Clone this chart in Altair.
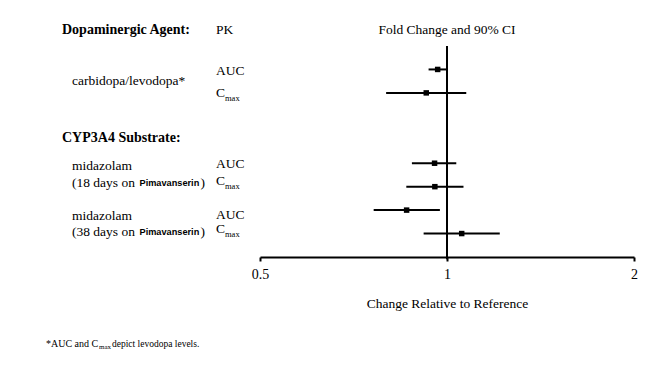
import altair as alt
import pandas as pd

# ---------------- data ----------------
pk_rows = ["carbidopa/levodopa AUC", "carbidopa/levodopa Cmax",
           "midazolam 18d AUC", "midazolam 18d Cmax",
           "midazolam 38d AUC", "midazolam 38d Cmax"]
fold = [0.966, 0.926, 0.955, 0.956, 0.861, 1.056]
ci_low = [0.934, 0.798, 0.878, 0.860, 0.762, 0.917]
ci_high = [1.000, 1.074, 1.035, 1.063, 0.974, 1.216]
row_pos = [1, 2, 5, 6, 7, 8]

x_ticks = [0.5, 1, 2]
ref_value = [1]

SERIF = "Liberation Serif"
SANS = "Liberation Sans"

xscale = alt.Scale(type="log", base=2, domain=[0.5, 2], nice=False)
yscale = alt.Scale(domain=[0, 9], reverse=True, nice=False, zero=False)
xaxis = alt.Axis(values=x_ticks, format="~g", title="Change Relative to Reference",
                 grid=False, domainColor="black", domainWidth=2, tickColor="black",
                 tickWidth=2, tickSize=4, labelFont=SERIF, labelFontSize=14,
                 labelColor="black", labelPadding=6, labelFlush=False,
                 titleFont=SERIF, titleFontSize=13.5,
                 titleFontWeight="normal", titleColor="black", titlePadding=15)

df = pd.DataFrame({"row": pk_rows, "fold": fold, "low": ci_low, "high": ci_high, "pos": row_pos})
ref = pd.DataFrame({"fold": ref_value, "top": [0.0], "bottom": [9.1]})

ci = alt.Chart(df).mark_rule(color="black", strokeWidth=2).encode(
    x=alt.X("low:Q", scale=xscale, axis=xaxis),
    x2="high:Q",
    y=alt.Y("pos:Q", scale=yscale, axis=None),
)
pts = alt.Chart(df).mark_square(color="black", size=30, opacity=1).encode(
    x=alt.X("fold:Q", scale=xscale, axis=xaxis),
    y=alt.Y("pos:Q", scale=yscale, axis=None),
)
refline = alt.Chart(ref).mark_rule(color="black", strokeWidth=2).encode(
    x=alt.X("fold:Q", scale=xscale, axis=xaxis),
    y=alt.Y("top:Q", scale=yscale, axis=None),
    y2="bottom:Q",
)


def tlayer(texts, ys, x, size, font=SERIF, weight="normal", dy=0, align="left"):
    d = pd.DataFrame({"t": texts, "y": ys})
    return alt.Chart(d).mark_text(
        align=align, baseline="middle", font=font, fontSize=size,
        fontWeight=weight, color="black", dy=dy
    ).encode(
        x=alt.value(x),
        y=alt.Y("y:Q", scale=yscale, axis=None),
        text="t:N",
    )


# text content
headers = ["Dopaminergic Agent:", "CYP3A4 Substrate:"]
drugs_main = ["carbidopa/levodopa*", "midazolam", "midazolam"]
paren_pre = ["(18 days on ", "(38 days on "]
paren_drug = ["Pimavanserin", "Pimavanserin"]
paren_post = [")", ")"]
auc_labels = ["AUC", "AUC", "AUC"]
c_labels = ["C", "C", "C"]
max_labels = ["max", "max", "max"]
foot_a = ["*AUC and C"]
foot_sub = ["max"]
foot_b = ["depict levodopa levels."]
FOOT_Y = 12.7

layers = [
    refline, ci, pts,
    tlayer(headers, [-0.68, 3.92], -198, 14, weight="bold"),
    tlayer(["PK"], [-0.68], -44, 13.5),
    tlayer(["Fold Change and 90% CI"], [-0.68], 187, 13.5, align="center"),
    tlayer(drugs_main, [1.5, 5.12, 7.25], -188, 13.5),
    tlayer(paren_pre, [5.84, 7.92], -188, 13.5),
    tlayer(paren_drug, [5.84, 7.92], -120.5, 9.2, font=SANS, weight="bold"),
    tlayer(paren_post, [5.84, 7.92], -59.5, 13.5),
    tlayer(auc_labels, [1.08, 5.05, 7.2], -44, 13.5),
    tlayer(c_labels, [2.0, 5.75, 7.8], -44, 13.5),
    tlayer(max_labels, [2.0, 5.75, 7.8], -35, 8.5, dy=5),
    tlayer(foot_a, [FOOT_Y], -214, 10),
    tlayer(foot_sub, [FOOT_Y], -161, 7, dy=3),
    tlayer(foot_b, [FOOT_Y], -148, 9.5),
]

chart = alt.layer(*layers).properties(
    width=374, height=211,
    autosize=alt.AutoSizeParams(type="none"),
    padding={"left": 252, "top": 38, "right": 10, "bottom": 100},
    background="white",
).configure_view(stroke=None)

chart.save("out.html", embed_options={"renderer": "svg", "actions": False})
